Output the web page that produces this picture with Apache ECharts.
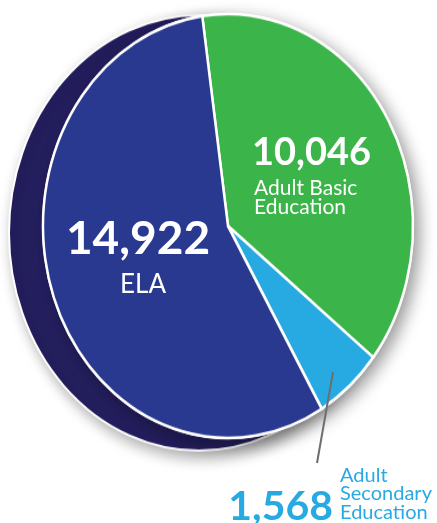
<!DOCTYPE html>
<html>
<head>
<meta charset="utf-8">
<script src="https://cdn.jsdelivr.net/npm/echarts@6/dist/echarts.min.js"></script>
<style>
  html, body { margin: 0; padding: 0; background: #ffffff; }
  #wrap { position: relative; width: 437px; height: 523px; overflow: hidden; background: #ffffff; }
  #pie { position: absolute; left: 0; top: 0; width: 437px; height: 523px;
         transform: scaleY(1.146); transform-origin: 0 226px; }
  #lab { position: absolute; left: 0; top: 0; width: 437px; height: 523px; }
</style>
</head>
<body>
<div id="wrap">
  <div id="pie"></div>
  <div id="lab"></div>
</div>
<script>
// ---- data ----
var categories = ['Adult Basic Education', 'Adult Secondary Education', 'ELA'];
var values = [10046, 1568, 14922];
var colors = ['#3bb54a', '#27aae1', '#29398f'];
var shadowColor = '#241f5e';

function fmt(v) { return v.toLocaleString('en-US'); }

// ---- pie (stretched vertically to an ellipse) ----
var pie = echarts.init(document.getElementById('pie'), null, { renderer: 'canvas' });
var R = 185;
pie.setOption({
  animation: false,
  backgroundColor: 'transparent',
  series: [
    {
      type: 'pie', silent: true, center: [199, 232], radius: 190,
      label: { show: false }, labelLine: { show: false },
      data: [{ value: 1, itemStyle: { color: shadowColor } }],
      itemStyle: { borderColor: '#ffffff', borderWidth: 2,
        shadowBlur: 14, shadowColor: 'rgba(0,0,0,0.35)', shadowOffsetX: 4, shadowOffsetY: 5 }
    },
    {
      type: 'pie', silent: true, center: [228, 226], radius: R + 1,
      label: { show: false }, labelLine: { show: false },
      data: [{ value: 1, itemStyle: { color: '#ffffff' } }],
      itemStyle: { shadowBlur: 16, shadowColor: 'rgba(0,0,0,0.4)', shadowOffsetX: 6, shadowOffsetY: 5 }
    },
    {
      type: 'pie', silent: true, center: [228, 226], radius: R,
      startAngle: 98, clockwise: true,
      label: { show: false }, labelLine: { show: false },
      itemStyle: { borderColor: '#ffffff', borderWidth: 2.5 },
      data: categories.map(function (c, i) {
        return { name: c, value: values[i], itemStyle: { color: colors[i] } };
      })
    }
  ]
});

// ---- labels (overlay, not stretched) ----
var lab = echarts.init(document.getElementById('lab'), null, { renderer: 'canvas' });
var F = 'Lato, "Open Sans", sans-serif';
function txt(x, y, s, size, weight, fill, align) {
  return { type: 'text', silent: true, style: {
    x: x, y: y, text: s, fill: fill, textAlign: align || 'left', textVerticalAlign: 'middle',
    font: weight + ' ' + size + 'px ' + F } };
}
lab.setOption({
  animation: false,
  backgroundColor: 'transparent',
  graphic: [
    txt(138, 239, fmt(values[2]), 46, 'bold', '#ffffff', 'center'),
    txt(143, 285, 'ELA', 26, 'normal', '#ffffff', 'center'),
    txt(252, 153, fmt(values[0]), 38, 'bold', '#ffffff', 'left'),
    txt(254, 188, 'Adult Basic', 21, 'normal', '#ffffff', 'left'),
    txt(254, 207, 'Education', 21, 'normal', '#ffffff', 'left'),
    { type: 'line', silent: true, shape: { x1: 333, y1: 372, x2: 317, y2: 463 },
      style: { stroke: '#6d6e71', lineWidth: 2 } },
    txt(333, 507, fmt(values[1]), 41, 'bold', '#27aae1', 'right'),
    txt(340, 476, 'Adult', 20, 'normal', '#27aae1', 'left'),
    txt(340, 494, 'Secondary', 20, 'normal', '#27aae1', 'left'),
    txt(340, 513, 'Education', 20, 'normal', '#27aae1', 'left')
  ]
});
</script>
</body>
</html>
